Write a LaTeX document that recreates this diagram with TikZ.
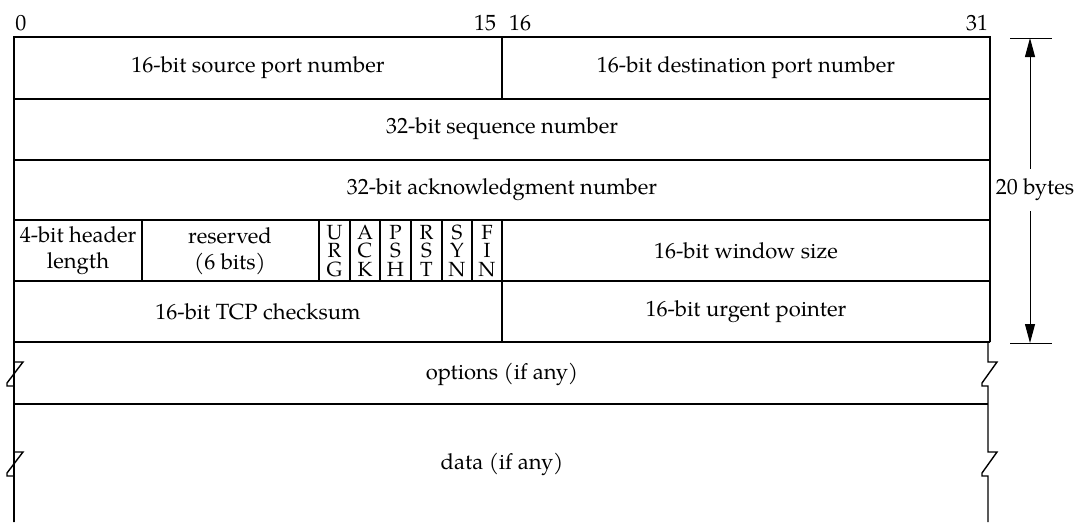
\documentclass[tikz,border=0pt]{standalone}
\usepackage{fontspec}
\setmainfont{TeX Gyre Pagella}
\usetikzlibrary{arrows.meta}
\begin{document}
\begin{tikzpicture}[x=1pt,y=-1pt,
  frame/.style={line width=1.4pt, line join=miter},
  txt/.style={font=\fontsize{22}{26}\selectfont, inner sep=0pt, align=center},
  flagtxt/.style={font=\fontsize{20.5}{20}\selectfont, inner sep=0pt, text height=14pt, text depth=0pt},
  dimline/.style={line width=1pt},
  dimarrow/.style={line width=1pt, -{Triangle[length=19pt,width=10pt]}}]
\useasboundingbox (0,0) rectangle (1084,522);
% frame of the header
\draw[frame] (14,522) -- (14,37) -- (990,37) -- (990,342);
\foreach \yy in {99,160,220,281,342} \draw[frame] (14,\yy) -- (990,\yy);
\draw[frame] (14,404) -- (988,404);
\draw[frame] (502,37) -- (502,99);
\draw[frame] (502,220) -- (502,342);
\draw[frame] (142,220) -- (142,281);
\foreach \xx in {319,350,380,411,442,472} \draw[frame] (\xx,220) -- (\xx,281);
% broken edges (left)
\draw[frame] (14,342) -- (14,362) -- (23,362) -- (7,383) -- (7,386) -- (14,386) -- (14,452) -- (23,452) -- (7,473) -- (7,476) -- (14,476) -- (14,522);
% broken edges (right)
\draw[frame] (990,342) -- (988,342) -- (988,362) -- (997,362) -- (982,383) -- (982,386) -- (988,386) -- (988,452) -- (997,452) -- (982,473) -- (982,476) -- (988,476) -- (988,522);
% bit numbers
\node[txt] (b0) at (21,23) {0};
\node[txt] (b15) at (485,23) {15};
\node[txt] (b16) at (520,23) {16};
\node[txt] (b31) at (977,23) {31};
% fields
\node[txt] (srcport) at (258,68) {16-bit source port number};
\node[txt] (dstport) at (746,68) {16-bit destination port number};
\node[txt] (seq) at (502,129) {32-bit sequence number};
\node[txt] (ack) at (502,190) {32-bit acknowledgment number};
\node[txt] (hlen) at (78,251) {4-bit header\\length};
\node[txt] (resv) at (230,251) {reserved\\(6 bits)};
\foreach \cx/\la/\lb/\lc [count=\i] in {334.5/U/R/G, 365/A/C/K, 395.5/P/S/H, 426.5/R/S/T, 457/S/Y/N, 487/F/I/N} {
  \node[flagtxt] (flag\i a) at (\cx,232) {\la};
  \node[flagtxt] (flag\i b) at (\cx,250.5) {\lb};
  \node[flagtxt] (flag\i c) at (\cx,269) {\lc};
}
\node[txt] (win) at (746,251) {16-bit window size};
\node[txt] (csum) at (258,312) {16-bit TCP checksum};
\node[txt] (urgp) at (746,312) {16-bit urgent pointer};
\node[txt] (opts) at (502,374) {options (if any)};
\node[txt] (data) at (502,464) {data (if any)};
% size dimension
\coordinate (topT) at (1030,38);
\coordinate (botT) at (1030,343);
\draw[dimline] (1010,38) -- (1052,38);
\draw[dimline] (1010,343) -- (1052,343);
\node[txt, inner ysep=10pt] (bytes) at (1035,190) {20 bytes};
\draw[dimarrow] (bytes.north -| topT) -- (topT);
\draw[dimarrow] (bytes.south -| botT) -- (botT);
\end{tikzpicture}
\end{document}
